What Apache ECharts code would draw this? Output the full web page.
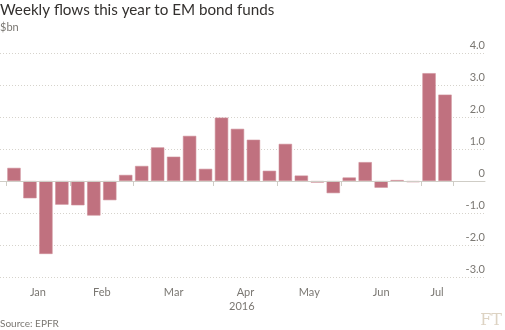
<!DOCTYPE html>
<html>
<head>
<meta charset="utf-8">
<style>html,body{margin:0;padding:0;background:#fff}#c{width:505px;height:330px}</style>
<script src="https://cdn.jsdelivr.net/npm/echarts@6/dist/echarts.min.js"></script>
</head>
<body>
<div id="c"></div>
<script>
// Week-ending dates (2016)
var weeks = ['Jan 6','Jan 13','Jan 20','Jan 27','Feb 3','Feb 10','Feb 17','Feb 24',
  'Mar 2','Mar 9','Mar 16','Mar 23','Mar 30','Apr 6','Apr 13','Apr 20','Apr 27',
  'May 4','May 11','May 18','May 25','Jun 1','Jun 8','Jun 15','Jun 22','Jun 29','Jul 6','Jul 13'];
// Weekly flows, $bn
var flows = [0.41,-0.54,-2.28,-0.74,-0.76,-1.08,-0.60,0.19,0.47,1.05,0.76,1.41,0.38,1.98,
  1.63,1.29,0.32,1.16,0.17,-0.05,-0.38,0.11,0.59,-0.21,0.03,-0.04,3.37,2.70];
// Month labels and the number of weeks in each month
var months = ['Jan','Feb','Mar','Apr','May','Jun','Jul'];
var monthWeeks = [4,4,5,4,4,5,2];
var yTicks = [-3,-2,-1,0,1,2,3,4];
var yearLabel = '2016';

var bounds = [0], mids = [];
monthWeeks.forEach(function(n){ var s = bounds[bounds.length-1]; mids.push(s + n/2); bounds.push(s + n); });

var chart = echarts.init(document.getElementById('c'), null, {renderer:'canvas'});
var txt = '#7a7772';
chart.setOption({
  animation:false,
  textStyle:{fontFamily:'Lato'},
  title:[
    {text:'Weekly flows this year to EM bond funds', left:-5, top:-2,
     textStyle:{fontFamily:'Lato', fontSize:15.2, fontWeight:'normal', color:'#33302e'}},
    {text:'$bn', left:-5, top:17, textStyle:{fontFamily:'Lato', fontSize:11, fontWeight:'normal', color:txt}},
    {text:'Source: EPFR', left:-5, top:314, textStyle:{fontFamily:'Lato', fontSize:10, fontWeight:'normal', color:txt}}
  ],
  graphic:[
    {type:'text', left:229, top:301, style:{text:yearLabel, font:'11px Lato', fill:txt, textAlign:'center'}},
    {type:'text', right:3, top:313, style:{text:'FT', font:'16px "DejaVu Serif"', fill:'#ddd3c3'}}
  ],
  grid:{left:0, right:20, top:53, bottom:53},
  xAxis:{
    type:'value', min:-6/ (447/28), max:28 + 32/(447/28),
    axisLine:{show:true, lineStyle:{color:'#cfcdc6', width:1}},
    axisTick:{show:true, customValues:bounds, length:5, lineStyle:{color:'#cfcdc6'}},
    axisLabel:{customValues:mids, margin:10, fontSize:11, color:txt, fontFamily:'Lato',
      formatter:function(v){ var i = mids.indexOf(v); return i>=0 ? months[i] : ''; }},
    splitLine:{show:false}
  },
  yAxis:{
    type:'value', position:'right', min:-3, max:4, interval:1,
    axisLine:{show:false}, axisTick:{show:false},
    axisLabel:{inside:true, margin:0, verticalAlign:'bottom', padding:[0,0,2,0], fontSize:11, color:txt, fontFamily:'Lato',
      formatter:function(v){ return v===0 ? '0' : v.toFixed(1); }},
    splitLine:{lineStyle:{color:'#d6d3cc', type:[1,2], width:1}}
  },
  series:[{
    type:'bar', barWidth:13.3,
    data:flows.map(function(v,i){ return [i+0.5, v]; }),
    itemStyle:{color:'#c0717f', borderColor:'#cf8e99', borderWidth:0.6},
    markLine:{silent:true, symbol:'none', label:{show:false},
      lineStyle:{color:'#cfcdc6', type:'solid', width:1}, data:[{yAxis:0}]}
  }]
});
</script>
</body>
</html>
